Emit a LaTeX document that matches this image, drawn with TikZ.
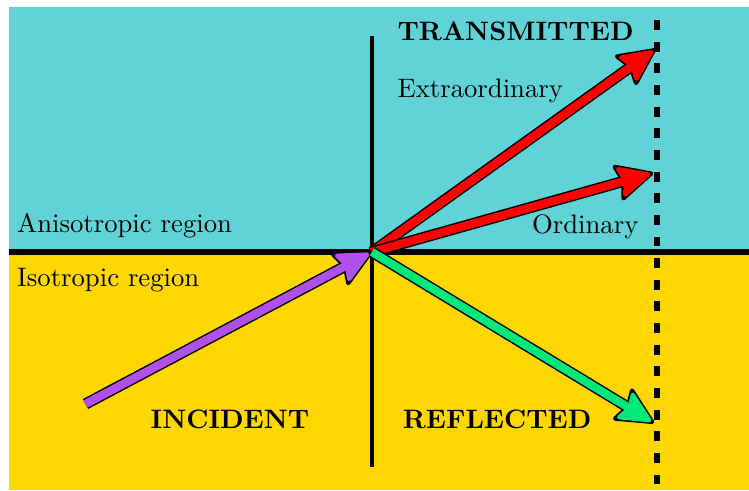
\documentclass[tikz,border=0pt]{standalone}
\usetikzlibrary{arrows.meta}
\definecolor{anisocyan}{RGB}{97,211,215}
\definecolor{isogold}{RGB}{255,215,0}
\definecolor{incpurple}{RGB}{175,80,235}
\definecolor{reflgreen}{RGB}{0,232,122}
\tikzset{
	rayback/.style={line width=4.2pt, black, -{Stealth[length=15.5pt, width=15pt, inset=2.2pt, round, line width=1.6pt]}},
	rayfront/.style={line width=3.1pt, #1, shorten >=1.2pt, -{Stealth[length=13.3pt, width=12.6pt, inset=1.9pt, round, line width=1.6pt]}},
	txt/.style={anchor=base west, inner sep=0pt},
}
\begin{document}
\begin{tikzpicture}
	\useasboundingbox (-4.895,-3.132) rectangle (4.961,3.316);
	\fill[anisocyan] (-4.776,0) rectangle (4.961,3.224);
	\fill[isogold] (-4.776,-3.132) rectangle (4.961,0);
	\draw[line width=2.2pt] (-4.776,0) -- (4.961,0);
	\draw[line width=1.8pt] (0,-2.83) -- (0,2.84);
	\draw[line width=2.1pt, dash pattern=on 3.7pt off 4.4pt] (3.75,3.05) -- (3.75,-3.132);
	\coordinate (O) at (0,0);
	\coordinate (inctail) at (-3.77,-2.0);
	\coordinate (exttip) at (3.73,2.67);
	\coordinate (ordtip) at (3.70,1.04);
	\coordinate (reftip) at (3.71,-2.25);
	% rays
	\draw[rayback] (inctail) -- (O);
	\draw[rayfront=incpurple] (inctail) -- (O);
	\draw[rayback] (O) -- (exttip);
	\draw[rayfront=red] (O) -- (exttip);
	\draw[rayback] (O) -- (ordtip);
	\draw[rayfront=red] (O) -- (ordtip);
	\draw[rayback] (O) -- (reftip);
	\draw[rayfront=reflgreen] (O) -- (reftip);
	% labels
	\node[txt] (trans) at (0.33,2.78) {\textbf{TRANSMITTED}};
	\node[txt] (extra) at (0.33,2.035) {Extraordinary};
	\node[txt] (ord) at (2.10,0.237) {Ordinary};
	\node[txt] (aniso) at (-4.675,0.26) {Anisotropic region};
	\node[txt] (iso) at (-4.675,-0.456) {Isotropic region};
	\node[txt] (inc) at (-2.92,-2.32) {\textbf{INCIDENT}};
	\node[txt] (refl) at (0.40,-2.32) {\textbf{REFLECTED}};
\end{tikzpicture}
\end{document}
